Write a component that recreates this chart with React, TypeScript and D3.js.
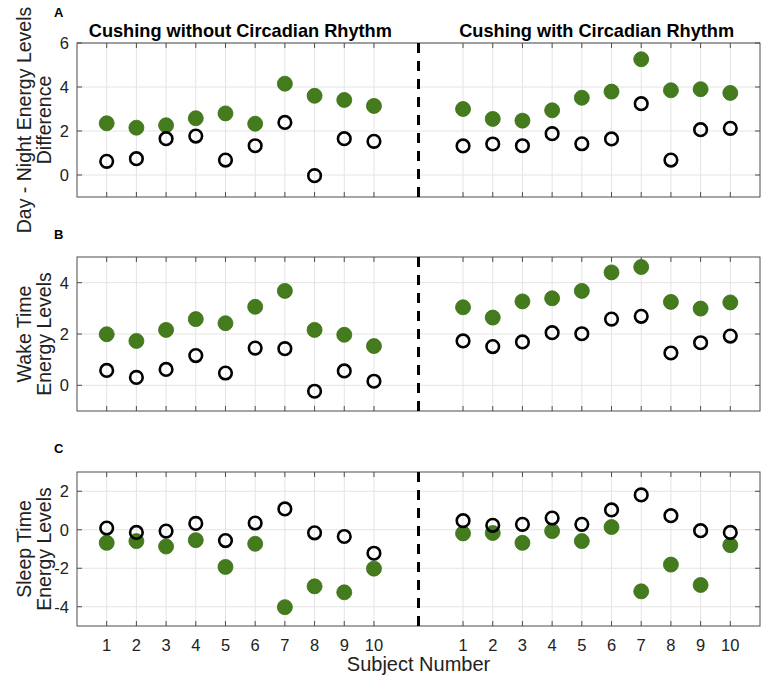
import React, { useEffect } from "react";
import * as d3 from "d3";

// subject numbers shown under each group
const subjects = [1, 2, 3, 4, 5, 6, 7, 8, 9, 10];
const groupTitles = ["Cushing without Circadian Rhythm", "Cushing with Circadian Rhythm"];

// A: Day - Night difference
const aWithoutFilled = [2.35, 2.15, 2.26, 2.58, 2.8, 2.33, 4.15, 3.6, 3.41, 3.14];
const aWithoutOpen = [0.62, 0.74, 1.65, 1.77, 0.68, 1.33, 2.39, -0.03, 1.65, 1.53];
const aWithFilled = [3.0, 2.55, 2.47, 2.94, 3.51, 3.79, 5.26, 3.85, 3.9, 3.73];
const aWithOpen = [1.32, 1.41, 1.33, 1.88, 1.42, 1.64, 3.24, 0.68, 2.06, 2.12];

// B: wake time
const bWithoutFilled = [1.99, 1.73, 2.16, 2.58, 2.42, 3.06, 3.68, 2.16, 1.97, 1.53];
const bWithoutOpen = [0.58, 0.31, 0.62, 1.16, 0.48, 1.45, 1.43, -0.23, 0.56, 0.16];
const bWithFilled = [3.04, 2.64, 3.27, 3.39, 3.68, 4.4, 4.61, 3.25, 2.99, 3.23];
const bWithOpen = [1.73, 1.51, 1.69, 2.05, 2.01, 2.58, 2.69, 1.26, 1.66, 1.92];

// C: sleep time
const cWithoutFilled = [-0.68, -0.59, -0.87, -0.54, -1.93, -0.73, -4.02, -2.94, -3.25, -2.02];
const cWithoutOpen = [0.09, -0.14, -0.07, 0.33, -0.56, 0.35, 1.08, -0.16, -0.35, -1.22];
const cWithFilled = [-0.19, -0.17, -0.68, -0.07, -0.59, 0.14, -3.2, -1.81, -2.87, -0.8];
const cWithOpen = [0.47, 0.23, 0.28, 0.61, 0.28, 1.03, 1.81, 0.73, -0.05, -0.14];

const panels = [
  {
    letter: "A", letterY: 17, label: ["Day - Night Energy Levels", "Difference"],
    domain: [-1, 6], ticks: [0, 2, 4, 6], top: 43, bottom: 197,
    filled: [aWithoutFilled, aWithFilled], open: [aWithoutOpen, aWithOpen],
  },
  {
    letter: "B", letterY: 239, label: ["Wake Time", "Energy Levels"],
    domain: [-1, 5], ticks: [0, 2, 4], top: 257, bottom: 411,
    filled: [bWithoutFilled, bWithFilled], open: [bWithoutOpen, bWithOpen],
  },
  {
    letter: "C", letterY: 453, label: ["Sleep Time", "Energy Levels"],
    domain: [-5, 3], ticks: [-4, -2, 0, 2], top: 472, bottom: 626,
    filled: [cWithoutFilled, cWithFilled], open: [cWithoutOpen, cWithOpen],
  },
];

const W = 765;
const H = 685;
const GREEN = "#437b1d";
const FONT = "'Liberation Sans', Arial, Helvetica, sans-serif";
const GROUP_OFFSET = [0, 12];

export default function App() {
  useEffect(() => {
    document.body.style.margin = "0";
  }, []);

  const x = d3.scaleLinear().domain([0, 23]).range([77, 760]);
  const xTicks = GROUP_OFFSET.flatMap((o) => subjects.map((s) => s + o));
  const divider = x(11.5);

  return (
    <svg width={W} height={H} style={{ display: "block", background: "#fff" }} fontFamily={FONT}>
      {panels.map((p) => {
        const y = d3.scaleLinear().domain(p.domain).range([p.bottom, p.top]);
        const midY = (p.top + p.bottom) / 2;
        return (
          <g key={p.letter}>
            {/* grid */}
            {xTicks.map((t) => (
              <line key={"gx" + t} x1={x(t)} x2={x(t)} y1={p.top} y2={p.bottom} stroke="#e4e4e4" />
            ))}
            {p.ticks.map((t) => (
              <line key={"gy" + t} x1={x(0)} x2={x(23)} y1={y(t)} y2={y(t)} stroke="#e4e4e4" />
            ))}
            {/* tick marks inside the box */}
            {xTicks.map((t) => (
              <g key={"tx" + t} stroke="#4d4d4d">
                <line x1={x(t)} x2={x(t)} y1={p.top} y2={p.top + 5} />
                <line x1={x(t)} x2={x(t)} y1={p.bottom} y2={p.bottom - 5} />
              </g>
            ))}
            {p.ticks.map((t) => (
              <g key={"ty" + t}>
                <line x1={x(0)} x2={x(0) + 5} y1={y(t)} y2={y(t)} stroke="#4d4d4d" />
                <line x1={x(23)} x2={x(23) - 5} y1={y(t)} y2={y(t)} stroke="#4d4d4d" />
                <text x={x(0) - 8} y={y(t)} dy="0.36em" textAnchor="end" fontSize={16.5} fill="#222">
                  {t < 0 ? "-" + Math.abs(t) : t}
                </text>
              </g>
            ))}
            <rect x={x(0)} y={p.top} width={x(23) - x(0)} height={p.bottom - p.top}
              fill="none" stroke="#4d4d4d" />
            {/* divider between groups */}
            <line x1={divider} x2={divider} y1={p.top} y2={p.bottom}
              stroke="#000" strokeWidth={3} strokeDasharray="10,8" />
            {/* points */}
            {GROUP_OFFSET.map((o, gi) => (
              <g key={"grp" + gi}>
                {p.filled[gi].map((v, i) => (
                  <circle key={"f" + i} cx={x(subjects[i] + o)} cy={y(v)} r={7.5}
                    fill={GREEN} stroke="#3a6e18" strokeWidth={0.8} />
                ))}
                {p.open[gi].map((v, i) => (
                  <circle key={"o" + i} cx={x(subjects[i] + o)} cy={y(v)} r={6.3}
                    fill="none" stroke="#000" strokeWidth={2.6} />
                ))}
              </g>
            ))}
            {/* panel letter */}
            <text x={54} y={p.letterY} fontSize={13} fontWeight="bold">{p.letter}</text>
            {/* y label */}
            <text transform={`translate(31,${midY}) rotate(-90)`} textAnchor="middle" fontSize={19.5} fill="#222">
              {p.label[0]}
            </text>
            <text transform={`translate(51,${midY}) rotate(-90)`} textAnchor="middle" fontSize={19.5} fill="#222">
              {p.label[1]}
            </text>
          </g>
        );
      })}
      {/* group titles */}
      {groupTitles.map((t, gi) => (
        <text key={t} x={x(5.5 + GROUP_OFFSET[gi])} y={36.5} textAnchor="middle"
          fontSize={18.2} fontWeight="bold">{t}</text>
      ))}
      {/* x tick labels */}
      {xTicks.map((t, i) => (
        <text key={"xl" + t} x={x(t)} y={651} textAnchor="middle" fontSize={16.5} fill="#222">
          {subjects[i % subjects.length]}
        </text>
      ))}
      <text x={divider} y={671} textAnchor="middle" fontSize={20} fill="#222">Subject Number</text>
    </svg>
  );
}
